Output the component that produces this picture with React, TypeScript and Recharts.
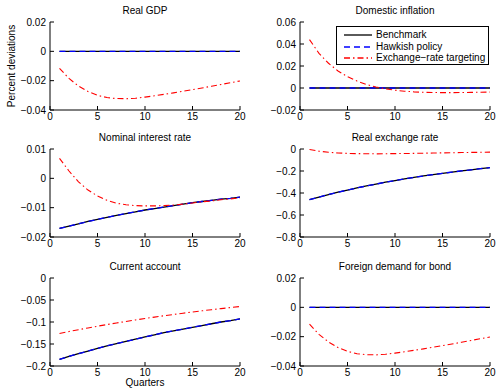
import { LineChart, Line, XAxis, YAxis } from 'recharts';

const quarters = [1, 2, 3, 4, 5, 6, 7, 8, 9, 10, 11, 12, 13, 14, 15, 16, 17, 18, 19, 20];
const xTicks = [0, 5, 10, 15, 20];

// Real GDP
const gdpBench = [0, 0, 0, 0, 0, 0, 0, 0, 0, 0, 0, 0, 0, 0, 0, 0, 0, 0, 0, 0];
const gdpHawk = [0, 0, 0, 0, 0, 0, 0, 0, 0, 0, 0, 0, 0, 0, 0, 0, 0, 0, 0, 0];
const gdpErt = [-0.0116, -0.0185, -0.0237, -0.0274, -0.03, -0.0315, -0.0322, -0.0323, -0.032, -0.0312, -0.0303, -0.0293, -0.0283, -0.0272, -0.0261, -0.025, -0.0238, -0.0226, -0.0214, -0.0202];

// Domestic inflation
const inflBench = [0, 0, 0, 0, 0, 0, 0, 0, 0, 0, 0, 0, 0, 0, 0, 0, 0, 0, 0, 0];
const inflHawk = [0, 0, 0, 0, 0, 0, 0, 0, 0, 0, 0, 0, 0, 0, 0, 0, 0, 0, 0, 0];
const inflErt = [0.044, 0.0315, 0.0225, 0.0155, 0.0103, 0.0063, 0.0032, 0.0009, -0.0008, -0.002, -0.0029, -0.0035, -0.0039, -0.0041, -0.0042, -0.0042, -0.0041, -0.004, -0.0038, -0.0037];

// Nominal interest rate
const rateBench = [-0.0171, -0.0163, -0.0155, -0.0147, -0.014, -0.0133, -0.0126, -0.012, -0.0114, -0.0108, -0.0103, -0.0098, -0.0093, -0.0088, -0.0083, -0.0079, -0.0075, -0.0071, -0.0068, -0.0064];
const rateHawk = [-0.0171, -0.0163, -0.0155, -0.0147, -0.014, -0.0133, -0.0126, -0.012, -0.0114, -0.0108, -0.0103, -0.0098, -0.0093, -0.0088, -0.0083, -0.0079, -0.0075, -0.0071, -0.0068, -0.0064];
const rateErt = [0.0068, 0.0025, -0.0012, -0.004, -0.006, -0.0075, -0.0085, -0.009, -0.0093, -0.0094, -0.0094, -0.0093, -0.0091, -0.0088, -0.0084, -0.008, -0.0077, -0.0073, -0.007, -0.0067];

// Real exchange rate
const rerBench = [-0.46, -0.437, -0.414, -0.393, -0.373, -0.354, -0.336, -0.319, -0.302, -0.287, -0.272, -0.258, -0.245, -0.233, -0.221, -0.21, -0.199, -0.189, -0.179, -0.17];
const rerHawk = [-0.46, -0.437, -0.414, -0.393, -0.373, -0.354, -0.336, -0.319, -0.302, -0.287, -0.272, -0.258, -0.245, -0.233, -0.221, -0.21, -0.199, -0.189, -0.179, -0.17];
const rerErt = [-0.005, -0.02, -0.03, -0.036, -0.04, -0.042, -0.043, -0.044, -0.043, -0.042, -0.041, -0.04, -0.038, -0.037, -0.035, -0.034, -0.032, -0.031, -0.03, -0.028];

// Current account
const caBench = [-0.185, -0.178, -0.172, -0.166, -0.16, -0.154, -0.149, -0.144, -0.139, -0.134, -0.129, -0.124, -0.12, -0.116, -0.112, -0.108, -0.104, -0.1, -0.097, -0.093];
const caHawk = [-0.185, -0.178, -0.172, -0.166, -0.16, -0.154, -0.149, -0.144, -0.139, -0.134, -0.129, -0.124, -0.12, -0.116, -0.112, -0.108, -0.104, -0.1, -0.097, -0.093];
const caErt = [-0.126, -0.1217, -0.1175, -0.1135, -0.1096, -0.1058, -0.1022, -0.0987, -0.0953, -0.092, -0.0889, -0.0858, -0.0829, -0.08, -0.0773, -0.0746, -0.072, -0.0696, -0.0672, -0.0649];

// Foreign demand for bond
const bondBench = [0, 0, 0, 0, 0, 0, 0, 0, 0, 0, 0, 0, 0, 0, 0, 0, 0, 0, 0, 0];
const bondHawk = [0, 0, 0, 0, 0, 0, 0, 0, 0, 0, 0, 0, 0, 0, 0, 0, 0, 0, 0, 0];
const bondErt = [-0.0115, -0.0184, -0.0236, -0.0274, -0.03, -0.0316, -0.0323, -0.0324, -0.032, -0.0312, -0.0303, -0.0293, -0.0283, -0.0272, -0.0261, -0.025, -0.0238, -0.0226, -0.0214, -0.0202];

const FONT = '"Liberation Sans", Arial, Helvetica, sans-serif';

const fmt = (v: number) => {
  const r = parseFloat(v.toFixed(4));
  return r < 0 ? '\u2212' + String(-r) : String(r);
};

type PanelProps = {
  title: string;
  left: number;
  top: number;
  domain: [number, number];
  ticks: number[];
  bench: number[];
  hawk: number[];
  ert: number[];
};

const Panel = ({ title, left, top, domain, ticks, bench, hawk, ert }: PanelProps) => {
  const data = quarters.map((q, i) => ({ q, bench: bench[i], hawk: hawk[i], ert: ert[i] }));
  const tickStyle = { fill: '#000', fontSize: 10 };
  return (
    <div style={{ position: 'absolute', left, top: top - 22, width: 250, height: 130 }}>
      <div
        style={{
          position: 'absolute',
          left: 50,
          width: 190,
          top: 5,
          lineHeight: '12px',
          fontSize: 10,
          textAlign: 'center',
        }}
      >
        {title}
      </div>
      <LineChart width={250} height={130} data={data} margin={{ top: 22, right: 10, bottom: 0, left: 0 }}>
        <XAxis
          dataKey="q"
          type="number"
          domain={[0, 20]}
          ticks={xTicks}
          allowDataOverflow
          height={20}
          stroke="#000"
          tickSize={-4}
          tickMargin={7}
          tick={tickStyle}
        />
        <XAxis
          xAxisId="t"
          orientation="top"
          type="number"
          domain={[0, 20]}
          ticks={xTicks}
          allowDataOverflow
          height={0}
          stroke="#000"
          tickSize={-4}
          tick={false}
        />
        <YAxis
          type="number"
          domain={domain}
          ticks={ticks}
          allowDataOverflow
          width={50}
          stroke="#000"
          tickSize={-4}
          tickMargin={8}
          tick={tickStyle}
          tickFormatter={fmt}
        />
        <YAxis
          yAxisId="r"
          orientation="right"
          type="number"
          domain={domain}
          ticks={ticks}
          allowDataOverflow
          width={0}
          stroke="#000"
          tickSize={-4}
          tick={false}
        />
        <Line dataKey="bench" stroke="#000" strokeWidth={1.3} dot={false} activeDot={false} isAnimationActive={false} />
        <Line
          dataKey="hawk"
          stroke="#0000ff"
          strokeWidth={1.3}
          strokeDasharray="6 4"
          dot={false}
          activeDot={false}
          isAnimationActive={false}
        />
        <Line
          dataKey="ert"
          stroke="#ff0000"
          strokeWidth={1.1}
          strokeDasharray="6 3 1.5 3"
          dot={false}
          activeDot={false}
          isAnimationActive={false}
        />
      </LineChart>
    </div>
  );
};

const LegendRow = ({ y, color, dash, label }: { y: number; color: string; dash?: string; label: string }) => (
  <div style={{ position: 'absolute', left: 0, top: y - 6, height: 12, width: 153 }}>
    <svg width={36} height={12} style={{ position: 'absolute', left: 0, top: 0 }}>
      <line x1={7} x2={35} y1={6} y2={6} stroke={color} strokeWidth={1.3} strokeDasharray={dash} />
    </svg>
    <span style={{ position: 'absolute', left: 39, top: 0, lineHeight: '12px', fontSize: 10, whiteSpace: 'nowrap' }}>
      {label}
    </span>
  </div>
);

export default function App() {
  return (
    <div
      style={{
        position: 'absolute',
        left: 0,
        top: 0,
        width: 498,
        height: 390,
        background: '#fff',
        fontFamily: FONT,
        color: '#000',
      }}
    >
      <Panel title="Real GDP" left={0} top={22} domain={[-0.04, 0.02]} ticks={[-0.04, -0.02, 0, 0.02]} bench={gdpBench} hawk={gdpHawk} ert={gdpErt} />
      <Panel title="Domestic inflation" left={250} top={22} domain={[-0.02, 0.06]} ticks={[-0.02, 0, 0.02, 0.04, 0.06]} bench={inflBench} hawk={inflHawk} ert={inflErt} />
      <Panel title="Nominal interest rate" left={0} top={149} domain={[-0.02, 0.01]} ticks={[-0.02, -0.01, 0, 0.01]} bench={rateBench} hawk={rateHawk} ert={rateErt} />
      <Panel title="Real exchange rate" left={250} top={149} domain={[-0.8, 0]} ticks={[-0.8, -0.6, -0.4, -0.2, 0]} bench={rerBench} hawk={rerHawk} ert={rerErt} />
      <Panel title="Current account" left={0} top={278} domain={[-0.2, 0]} ticks={[-0.2, -0.15, -0.1, -0.05, 0]} bench={caBench} hawk={caHawk} ert={caErt} />
      <Panel title="Foreign demand for bond" left={250} top={278} domain={[-0.04, 0.02]} ticks={[-0.04, -0.02, 0, 0.02]} bench={bondBench} hawk={bondHawk} ert={bondErt} />

      <div
        style={{
          position: 'absolute',
          left: 12 - 60,
          top: 66 - 6,
          width: 120,
          lineHeight: '12px',
          fontSize: 10,
          textAlign: 'center',
          transform: 'rotate(-90deg)',
        }}
      >
        Percent deviations
      </div>
      <div style={{ position: 'absolute', left: 50, width: 190, top: 377, lineHeight: '12px', fontSize: 10, textAlign: 'center' }}>
        Quarters
      </div>

      <div
        style={{
          position: 'absolute',
          left: 336,
          top: 26,
          width: 153,
          height: 39,
          boxSizing: 'border-box',
          border: '1px solid #000',
          background: '#fff',
        }}
      >
        <LegendRow y={8} color="#000" label="Benchmark" />
        <LegendRow y={20} color="#0000ff" dash="6 4" label="Hawkish policy" />
        <LegendRow y={31} color="#ff0000" dash="6 3 1.5 3" label={'Exchange\u2212rate targeting'} />
      </div>
    </div>
  );
}
